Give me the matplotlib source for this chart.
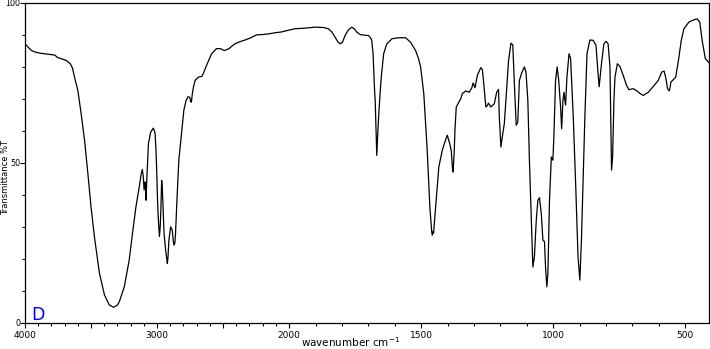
import numpy as np
import matplotlib
matplotlib.use('Agg')
import matplotlib.pyplot as plt
from matplotlib.ticker import FixedLocator, MultipleLocator, NullFormatter

# --- IR spectrum (wavenumber cm-1, %T) ---
wavenumber = [
    4000, 3975, 3950, 3920, 3887, 3850, 3812, 3775, 3752, 3720, 3687, 3657, 3640, 3625,
    3600, 3575, 3549, 3524, 3500, 3474, 3436, 3398, 3361, 3329, 3300, 3286, 3248, 3211,
    3186, 3160, 3135, 3120, 3112, 3105, 3098, 3092, 3087, 3083, 3078, 3070, 3065, 3048,
    3028, 3015, 3008, 3002, 2996, 2990, 2982, 2976, 2972, 2965, 2960, 2953, 2947, 2935,
    2922, 2918, 2910, 2897, 2885, 2877, 2872, 2865, 2860, 2847, 2835, 2815, 2797, 2780,
    2765, 2752, 2745, 2740, 2733, 2725, 2712, 2687, 2660, 2650, 2625, 2587, 2550, 2520,
    2490, 2455, 2430, 2410, 2370, 2333, 2290, 2246, 2200, 2158, 2100, 2058, 2020, 1978,
    1940, 1902, 1870, 1851, 1838, 1826, 1815, 1807, 1798, 1788, 1775, 1763, 1753, 1744,
    1731, 1715, 1699, 1690, 1687, 1682, 1680, 1676, 1674, 1670, 1668, 1665, 1661, 1656,
    1651, 1642, 1630, 1610, 1585, 1559, 1540, 1521, 1510, 1502, 1490, 1477, 1467, 1460,
    1458, 1455, 1453, 1443, 1433, 1420, 1410, 1401, 1392, 1386, 1381, 1379, 1375, 1372,
    1367, 1360, 1350, 1344, 1337, 1331, 1318, 1308, 1303, 1296, 1287, 1274, 1268, 1262,
    1255, 1250, 1245, 1236, 1223, 1214, 1207, 1204, 1198, 1191, 1185, 1179, 1169, 1160,
    1153, 1147, 1140, 1134, 1128, 1118, 1109, 1103, 1096, 1090, 1083, 1077, 1071, 1064,
    1058, 1052, 1045, 1039, 1033, 1029, 1024, 1020, 1014, 1007, 1001, 997, 991, 985,
    979, 972, 968, 963, 959, 955, 953, 948, 940, 934, 924, 915, 906, 899,
    893, 887, 880, 872, 861, 849, 838, 832, 826, 817, 808, 800, 792, 785,
    781, 779, 775, 770, 766, 757, 747, 735, 722, 713, 696, 683, 671, 659,
    640, 621, 602, 589, 580, 573, 567, 560, 554, 536, 524, 515, 505, 486,
    467, 455, 445, 436, 424, 410,
]
transmittance = [
    87.1, 86.0, 85.0, 84.5, 84.2, 84.0, 83.8, 83.6, 82.8, 82.4, 81.9, 80.9, 79.5, 76.7,
    72.6, 65.4, 57.0, 46.7, 36.2, 26.8, 15.5, 8.7, 5.6, 4.9, 5.6, 6.6, 11.3, 19.6,
    28.0, 36.2, 42.4, 46.5, 47.9, 46.0, 41.5, 44.0, 43.5, 38.3, 44.5, 52.0, 56.0, 59.6,
    60.8, 59.2, 54.0, 46.7, 38.0, 32.1, 27.0, 30.0, 34.2, 44.5, 42.0, 34.0, 28.0, 22.7,
    18.6, 20.0, 25.9, 30.0, 29.0, 25.5, 24.3, 25.0, 28.0, 40.4, 50.8, 59.1, 66.4, 69.5,
    70.6, 70.4, 69.0, 68.9, 71.5, 73.5, 75.7, 76.7, 77.0, 77.8, 80.4, 84.0, 85.6, 85.6,
    85.0, 85.6, 86.5, 87.1, 87.8, 88.3, 89.0, 89.9, 90.0, 90.2, 90.6, 90.8, 91.2, 91.8,
    92.0, 92.3, 92.2, 91.8, 90.8, 89.2, 87.7, 87.1, 87.6, 89.7, 91.5, 92.3, 91.8, 90.8,
    90.0, 89.8, 89.7, 88.8, 88.2, 84.0, 79.9, 72.0, 69.5, 58.0, 52.3, 58.0, 64.3, 71.0,
    76.7, 84.0, 87.1, 88.7, 89.0, 89.0, 87.6, 85.0, 82.5, 79.9, 71.6, 53.9, 36.2, 28.5,
    27.4, 28.5, 28.0, 38.3, 48.7, 53.9, 56.5, 58.6, 56.0, 53.8, 48.0, 47.1, 53.0, 60.1,
    67.4, 68.5, 70.0, 71.6, 72.0, 72.4, 72.0, 73.4, 74.9, 73.4, 77.3, 79.7, 79.0, 73.9,
    67.4, 67.8, 68.6, 67.4, 68.4, 72.0, 72.9, 64.3, 54.9, 59.0, 62.2, 69.5, 81.9, 87.3,
    86.8, 74.7, 61.7, 62.7, 75.7, 78.3, 79.9, 78.3, 69.5, 50.8, 33.1, 17.5, 20.8, 32.1,
    38.3, 39.1, 34.1, 25.9, 25.4, 17.5, 11.3, 15.5, 38.3, 51.8, 50.8, 59.1, 75.7, 79.9,
    75.7, 67.4, 60.6, 69.5, 72.0, 69.0, 68.0, 76.7, 84.0, 82.5, 64.3, 43.5, 20.7, 13.4,
    25.9, 43.5, 64.3, 84.0, 88.3, 88.2, 86.7, 79.9, 73.7, 81.0, 87.1, 87.9, 87.1, 79.9,
    59.1, 47.7, 51.8, 69.5, 76.7, 80.9, 80.0, 77.3, 74.1, 72.8, 73.1, 72.4, 71.6, 71.0,
    72.0, 73.8, 75.7, 78.3, 78.6, 76.2, 73.1, 72.4, 75.2, 76.7, 82.9, 88.2, 91.8, 93.9,
    94.6, 94.9, 93.9, 88.2, 82.5, 81.2,
]

x_major = [4000, 3500, 3000, 2500, 2000, 1500, 1000, 500]
x_labels = ['4000', '', '3000', '', '2000', '1500', '1000', '500']
y_major = [0, 50, 100]


# above 2000 cm-1 the axis is compressed by a factor of 2
def fwd(w):
    w = np.asarray(w, dtype=float)
    return np.where(w > 2000, 2000 + (w - 2000) / 2, w)


def inv(u):
    u = np.asarray(u, dtype=float)
    return np.where(u > 2000, 2000 + (u - 2000) * 2, u)


W, H = 710, 349
fig = plt.figure(figsize=(W / 100, H / 100), dpi=100)
ax = fig.add_axes([25 / W, (H - 323) / H, 684 / W, 320.5 / H])

ax.plot(wavenumber, transmittance, color='black', lw=0.9)

ax.set_xscale('function', functions=(fwd, inv))
ax.set_xlim(4000, 410)
ax.set_ylim(0, 100)

ax.xaxis.set_major_locator(FixedLocator(x_major))
ax.set_xticklabels(x_labels)
ax.xaxis.set_minor_locator(MultipleLocator(100))
ax.xaxis.set_minor_formatter(NullFormatter())
ax.yaxis.set_major_locator(FixedLocator(y_major))
ax.yaxis.set_minor_locator(MultipleLocator(10))

ax.tick_params(axis='both', which='major', direction='out', length=3.5, width=0.8,
               labelsize=6.5, pad=2, colors='black')
ax.tick_params(axis='y', which='major', pad=0, labelsize=5.8)
ax.tick_params(axis='both', which='minor', direction='out', length=2, width=0.8)
for s in ax.spines.values():
    s.set_linewidth(0.9)

fig.text(351 / W, 1 - 342 / H, 'wavenumber cm$^{-1}$', ha='center', va='center', fontsize=7.5)
fig.text(5.4 / W, 1 - 177 / H, 'Transmittance %T', ha='center', va='center',
         rotation=90, fontsize=6)
fig.text(31 / W, 1 - 320 / H, 'D', ha='left', va='baseline', fontsize=12.5, color='#0000ff')

plt.savefig('out.png', dpi=100)
